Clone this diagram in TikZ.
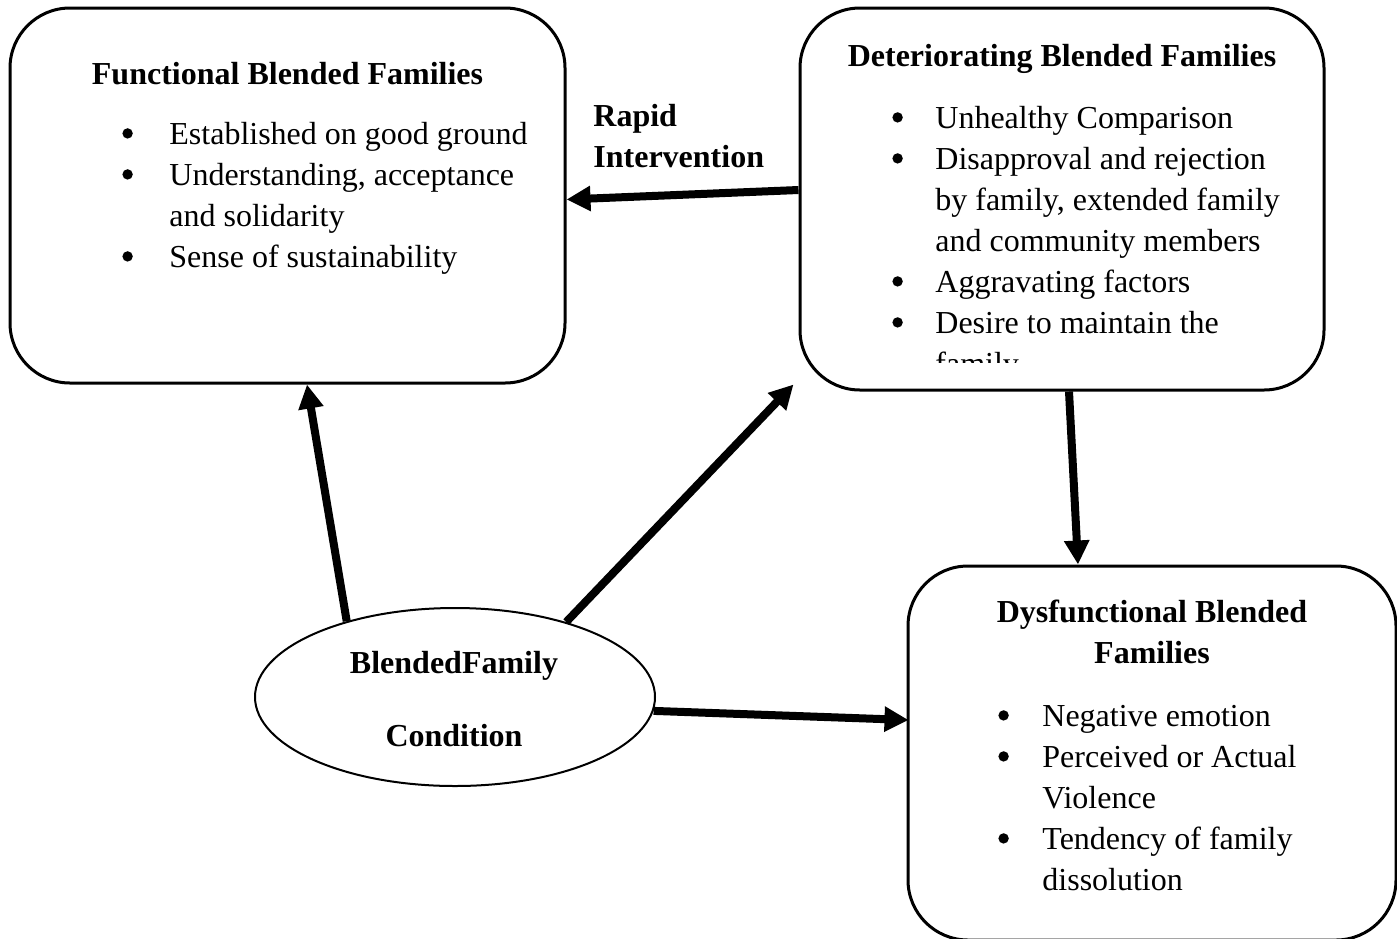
\documentclass[tikz,border=0pt]{standalone}
\usepackage{fontspec}
\setmainfont{Liberation Serif}
\usetikzlibrary{shapes.geometric,arrows.meta}

\newcommand{\punto}{\tikz[baseline=0pt]\fill (2.6pt,5.3pt) circle (2.6pt);}

\tikzset{
  famBox/.style={draw, line width=1.5pt, rounded corners=30pt, inner sep=0pt},
  condEll/.style={ellipse, draw, line width=1pt, inner sep=0pt,
                  minimum width=200pt, minimum height=89pt},
  txt/.style={inner sep=0pt, font=\fontsize{16}{20.5}\selectfont},
  freccia/.style={line width=4pt, -{Triangle[length=12pt,width=12pt]}}
}

\begin{document}
\begin{tikzpicture}[x=0.5pt, y=-0.5pt]
            \useasboundingbox (0,0) rectangle (1397,938);

            % Riquadri
            \node (func) at (287.5,195.5) [famBox, minimum width=277.5pt, minimum height=187.5pt] {};
            \node (det) at (1062,199) [famBox, minimum width=262pt, minimum height=191pt] {};
            \node (dys) at (1152,753) [famBox, minimum width=244pt, minimum height=187pt] {};
            \node (cond) at (455,697) [condEll] {};

            % Titoli
            \node (funcT) at (287.5,84) [txt, anchor=base] {\textbf{Functional Blended Families}};
            \node (detT) at (1062,66) [txt, anchor=base] {\textbf{Deteriorating Blended Families}};
            \node (dysT) at (1152,622) [txt, anchor=base]
                {\begin{tabular}[t]{@{}c@{}}\textbf{Dysfunctional Blended}\\\textbf{Families}\end{tabular}};
            \node (rapid) at (593,126) [txt, anchor=base west]
                {\begin{tabular}[t]{@{}l@{}}\textbf{Rapid}\\\textbf{Intervention}\end{tabular}};
            \node (bf1) at (454,673) [txt, anchor=base] {\textbf{BlendedFamily}};
            \node (bf2) at (454,746) [txt, anchor=base] {\textbf{Condition}};

            % Elenchi
            \node (funcL) at (122,144) [txt, anchor=base west]
                {\begin{tabular}[t]{@{}p{23.5pt}@{}l@{}}
                 \punto & Established on good ground\\
                 \punto & Understanding, acceptance\\
                        & and solidarity\\
                 \punto & Sense of sustainability
                 \end{tabular}};
            \begin{scope}
              \clip (800,8) rectangle (1325,362);
              \node (detL) at (892,128) [txt, anchor=base west]
                {\begin{tabular}[t]{@{}p{21.5pt}@{}l@{}}
                 \punto & Unhealthy Comparison\\
                 \punto & Disapproval and rejection\\
                        & by family, extended family\\
                        & and community members\\
                 \punto & Aggravating factors\\
                 \punto & Desire to maintain the\\
                        & family
                 \end{tabular}};
            \end{scope}
            \node (dysL) at (998,726) [txt, anchor=base west]
                {\begin{tabular}[t]{@{}p{22pt}@{}l@{}}
                 \punto & Negative emotion\\
                 \punto & Perceived or Actual\\
                        & Violence\\
                 \punto & Tendency of family\\
                        & dissolution
                 \end{tabular}};

            % Collegamenti
            \draw [freccia] (cond.145) -- ([xshift=9.75pt]func.south);
            \draw [freccia] (cond.34) -- ([xshift=-2.5pt,yshift=3.5pt]det.south west);
            \draw [freccia] (cond.-4) -- ([xshift=1pt,yshift=16.5pt]dys.west);
            \draw [freccia] ([yshift=4.5pt]det.west) -- ([yshift=-2pt]func.east);
            \draw [freccia] ([xshift=3.5pt]det.south) -- ([xshift=-37pt]dys.north);
        \end{tikzpicture}
\end{document}
